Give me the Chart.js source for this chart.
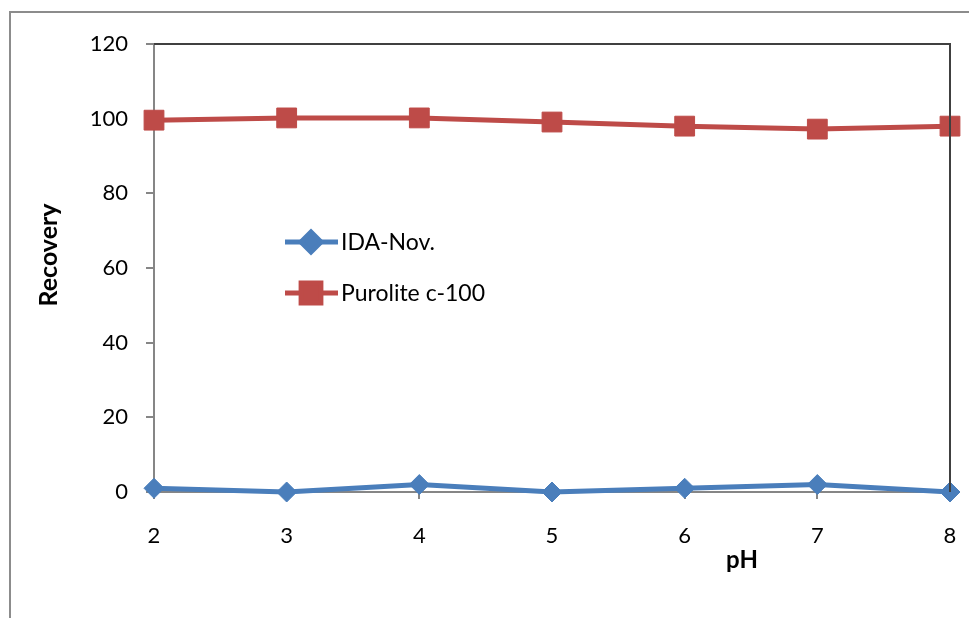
<!DOCTYPE html>
<html>
<head>
<meta charset="utf-8">
<script src="https://cdn.jsdelivr.net/npm/chart.js@4/dist/chart.umd.min.js"></script>
<style>
  html, body { margin: 0; padding: 0; background: #fff; }
  #wrap { position: relative; width: 969px; height: 618px; }
</style>
</head>
<body>
<div id="wrap"><canvas id="c" width="969" height="618"></canvas></div>
<script>
// pH vs recovery, two resins
var PH = [2, 3, 4, 5, 6, 7, 8];
var IDA_NOV = [1, 0, 2, 0, 1, 2, 0];
var PUROLITE = [99.6, 100.2, 100.2, 99.1, 98, 97.2, 98];
var Y_TICKS = [0, 20, 40, 60, 80, 100, 120];
var BLUE = '#4a7ebb', RED = '#be4b48';
var FONT = 'Lato, "Open Sans", sans-serif';

function pts(ys) { return PH.map(function (x, i) { return { x: x, y: ys[i] }; }); }

// frame, plot border, axis titles, legend
var deco = {
  id: 'deco',
  afterDraw: function (ch) {
    var c = ch.ctx, a = ch.chartArea;
    c.save();
    c.strokeStyle = '#8c8c8c'; c.lineWidth = 2;
    c.beginPath(); c.moveTo(10, 618); c.lineTo(10, 12); c.lineTo(969, 12); c.stroke();
    c.strokeStyle = '#404040'; c.lineWidth = 2;
    c.beginPath(); c.moveTo(a.left, a.top); c.lineTo(a.right, a.top); c.lineTo(a.right, a.bottom); c.stroke();
    c.fillStyle = '#000';
    c.font = 'bold 24px ' + FONT;
    c.textAlign = 'center'; c.textBaseline = 'middle';
    c.fillText('pH', 742, 560);
    c.translate(49, 255); c.rotate(-Math.PI / 2);
    c.font = 'bold 25px ' + FONT;
    c.fillText('Recovery', 0, 0);
    c.restore();
    // legend
    c.save();
    ch.data.datasets.forEach(function (ds, i) {
      var y = 242 + i * 51;
      c.strokeStyle = ds.borderColor; c.lineWidth = 5;
      c.beginPath(); c.moveTo(285, y); c.lineTo(338, y); c.stroke();
      c.fillStyle = ds.backgroundColor;
      c.strokeStyle = ds.backgroundColor;
      Chart.helpers.drawPoint(c, { pointStyle: ds.pointStyle, radius: ds.pointRadius, borderWidth: 1 }, 311, y);
      c.fillStyle = '#000'; c.font = '23px ' + FONT;
      c.textAlign = 'left'; c.textBaseline = 'middle';
      c.fillText(ds.label, 341, y + 1);
    });
    c.restore();
  }
};

new Chart(document.getElementById('c'), {
  type: 'line',
  data: {
    datasets: [
      { label: 'IDA-Nov.', data: pts(IDA_NOV), borderColor: BLUE, backgroundColor: BLUE, borderWidth: 5, clip: false,
        pointStyle: 'rectRot', pointRadius: 10, pointBorderWidth: 1, pointBorderColor: BLUE, pointBackgroundColor: BLUE },
      { label: 'Purolite c-100', data: pts(PUROLITE), borderColor: RED, backgroundColor: RED, borderWidth: 5, clip: false,
        pointStyle: 'rect', pointRadius: 14, pointBorderWidth: 1, pointBorderColor: RED, pointBackgroundColor: RED }
    ]
  },
  options: {
    responsive: false, animation: false,
    layout: { padding: { top: 44, right: 19, left: 0, bottom: 0 } },
    plugins: { legend: { display: false }, tooltip: { enabled: false } },
    scales: {
      x: {
        type: 'linear', min: 2, max: 8,
        afterBuildTicks: function (s) { s.ticks = PH.map(function (v) { return { value: v }; }); },
        afterFit: function (s) { s.height = 126; s.paddingLeft = 0; s.paddingRight = 0; },
        grid: { drawOnChartArea: false, tickLength: 7, color: '#868686', lineWidth: 2 },
        border: { color: '#868686', width: 2 },
        ticks: { color: '#000', padding: 24, maxRotation: 0, font: { family: FONT, size: 22 } }
      },
      y: {
        min: 0, max: 120,
        afterBuildTicks: function (s) { s.ticks = Y_TICKS.map(function (v) { return { value: v }; }); },
        afterFit: function (s) { s.width = 154; s.paddingTop = 0; s.paddingBottom = 0; },
        grid: { drawOnChartArea: false, tickLength: 8, color: '#868686', lineWidth: 2 },
        border: { color: '#868686', width: 2 },
        ticks: { color: '#000', padding: 18, font: { family: FONT, size: 22 } }
      }
    }
  },
  plugins: [deco]
});
</script>
</body>
</html>
